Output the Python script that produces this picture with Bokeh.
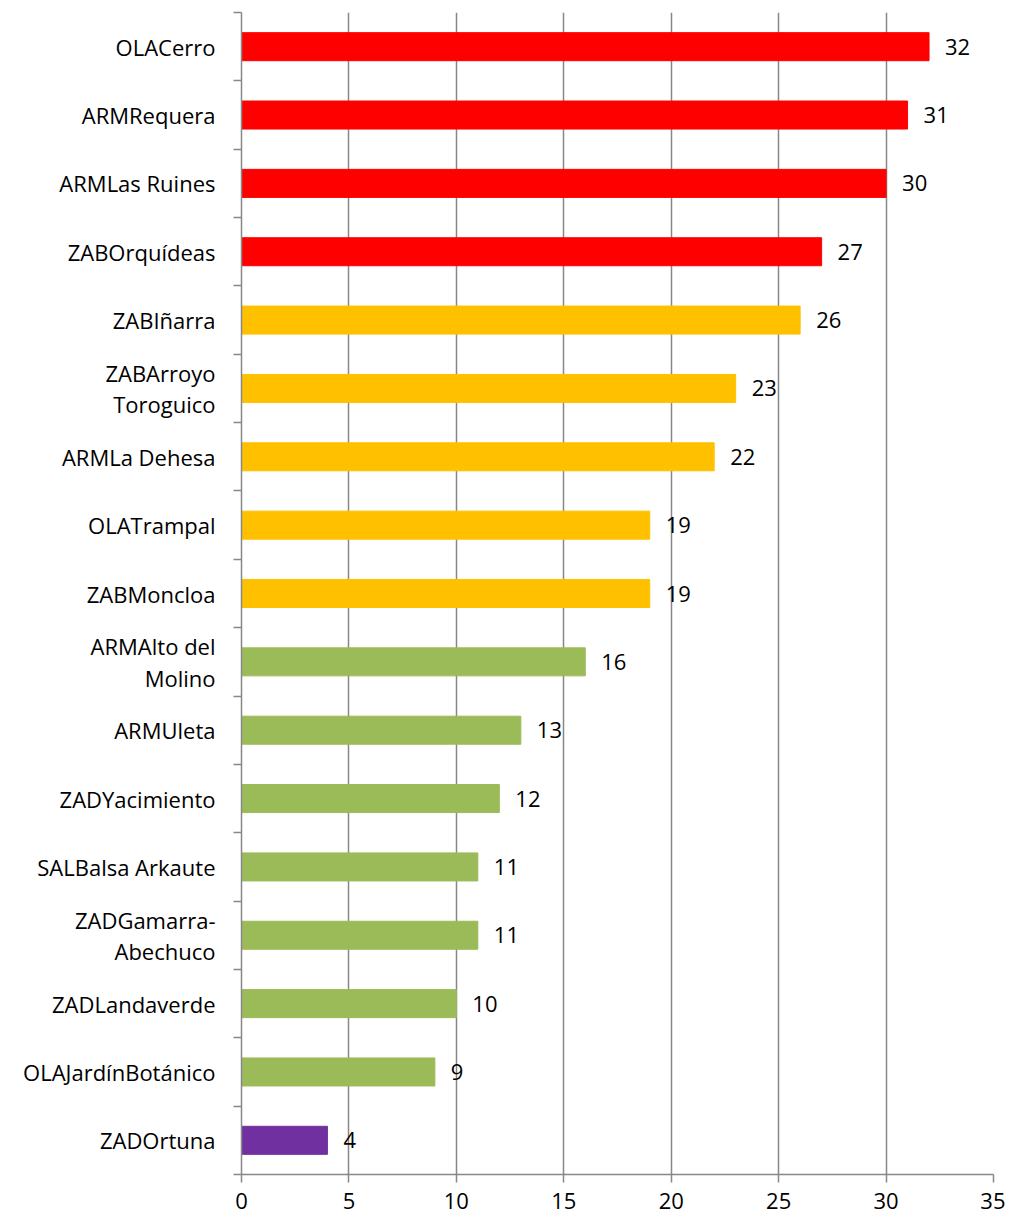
from bokeh.plotting import figure
from bokeh.models import ColumnDataSource, FixedTicker, Range1d, LabelSet
from bokeh.core.properties import value
from bokeh.embed import file_html
from bokeh.resources import INLINE

categories = ["OLACerro", "ARMRequera", "ARMLas Ruines", "ZABOrquídeas", "ZABIñarra",
              "ZABArroyo\nToroguico", "ARMLa Dehesa", "OLATrampal", "ZABMoncloa",
              "ARMAlto del\nMolino", "ARMUleta", "ZADYacimiento", "SALBalsa Arkaute",
              "ZADGamarra-\nAbechuco", "ZADLandaverde", "OLAJardínBotánico", "ZADOrtuna"]
values = [32, 31, 30, 27, 26, 23, 22, 19, 19, 16, 13, 12, 11, 11, 10, 9, 4]
groups = ["red"] * 4 + ["orange"] * 5 + ["green"] * 7 + ["purple"]
x_ticks = [0, 5, 10, 15, 20, 25, 30, 35]

palette = {"red": "#FF0000", "orange": "#FFC000", "green": "#9BBB59", "purple": "#7030A0"}
FONT = "Open Sans"
FS = "22px"
GRID = "#878787"

n = len(categories)
ypos = list(range(n))
src = ColumnDataSource(dict(
    y=ypos, v=values, c=[palette[g] for g in groups],
    lab=[str(v) for v in values],
))

p = figure(width=1005, height=1219, output_backend="svg", toolbar_location=None,
           x_range=Range1d(0, 35), y_range=Range1d(n - 0.5, -0.5),
           min_border_left=241, min_border_right=12, min_border_top=12, min_border_bottom=45)
p.outline_line_color = None
p.background_fill_color = "white"

p.hbar(y="y", right="v", left=0, height=0.41, color="c", source=src)

labels = LabelSet(x="v", y="y", text="lab", source=src, x_offset=16,
                  text_align="left", text_baseline="middle",
                  text_font=value(FONT), text_font_size=FS, text_color="black")
p.add_layout(labels)

# x axis
p.xaxis.ticker = FixedTicker(ticks=x_ticks)
p.xaxis.axis_line_color = GRID
p.xaxis.axis_line_width = 1.5
p.xaxis.major_tick_line_color = GRID
p.xaxis.major_tick_line_width = 1.5
p.xaxis.major_tick_in = 0
p.xaxis.major_tick_out = 8
p.xaxis.minor_tick_line_color = None
p.xaxis.major_label_text_font = FONT
p.xaxis.major_label_text_font_size = FS
p.xaxis.major_label_text_color = "black"
p.xaxis.major_label_standoff = 10

# y axis: labels at category centres, tick marks at category boundaries
p.yaxis.ticker = FixedTicker(ticks=ypos, minor_ticks=[i - 0.5 for i in range(n + 1)])
p.yaxis.major_label_overrides = {i: categories[i] for i in ypos}
p.yaxis.axis_line_color = GRID
p.yaxis.axis_line_width = 1.5
p.yaxis.major_tick_line_color = None
p.yaxis.major_tick_in = 0
p.yaxis.major_tick_out = 0
p.yaxis.minor_tick_line_color = GRID
p.yaxis.minor_tick_line_width = 1.5
p.yaxis.minor_tick_in = 0
p.yaxis.minor_tick_out = 8
p.yaxis.major_label_text_font = FONT
p.yaxis.major_label_text_font_size = FS
p.yaxis.major_label_text_color = "black"
p.yaxis.major_label_text_line_height = 1.05
p.yaxis.major_label_standoff = 18

p.xgrid.grid_line_color = GRID
p.xgrid.grid_line_width = 1.5
p.ygrid.grid_line_color = None

open("out.html", "w").write(file_html(p, INLINE))
